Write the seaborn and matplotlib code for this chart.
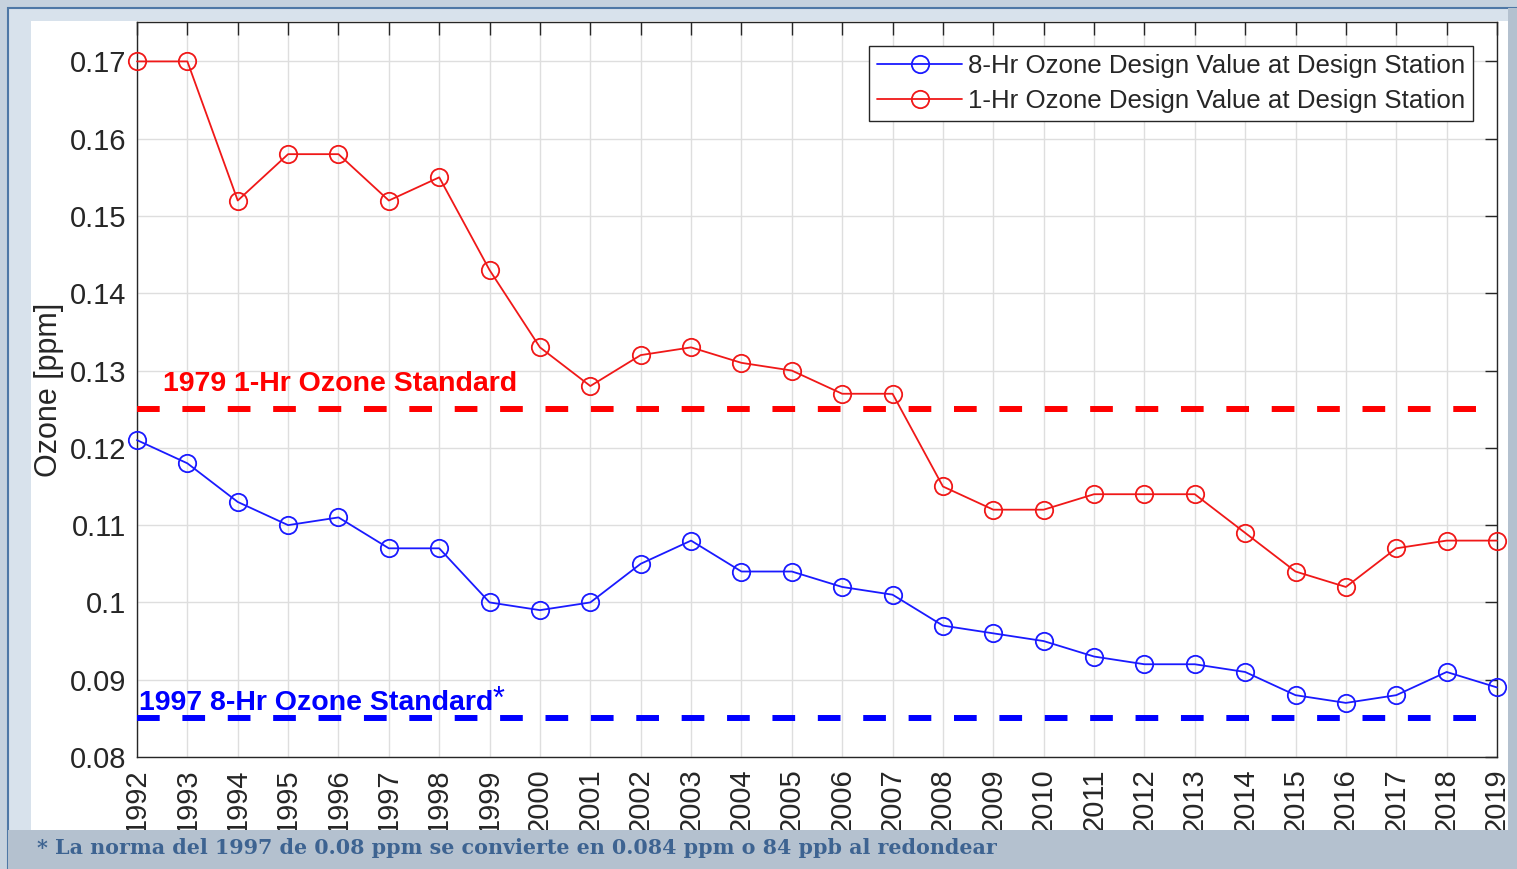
import matplotlib
matplotlib.use("Agg")
import matplotlib.pyplot as plt
from matplotlib.patches import Rectangle
import seaborn as sns
import pandas as pd

years = list(range(1992, 2020))
ozone_8hr = [0.121, 0.118, 0.113, 0.110, 0.111, 0.107, 0.107, 0.100, 0.099, 0.100,
             0.105, 0.108, 0.104, 0.104, 0.102, 0.101, 0.097, 0.096, 0.095, 0.093,
             0.092, 0.092, 0.091, 0.088, 0.087, 0.088, 0.091, 0.089]
ozone_1hr = [0.170, 0.170, 0.152, 0.158, 0.158, 0.152, 0.155, 0.143, 0.133, 0.128,
             0.132, 0.133, 0.131, 0.130, 0.127, 0.127, 0.115, 0.112, 0.112, 0.114,
             0.114, 0.114, 0.109, 0.104, 0.102, 0.107, 0.108, 0.108]
label_8hr = "8-Hr Ozone Design Value at Design Station"
label_1hr = "1-Hr Ozone Design Value at Design Station"
std_1hr = 0.125
std_8hr = 0.085
std_1hr_label = "1979 1-Hr Ozone Standard"
std_8hr_label = "1997 8-Hr Ozone Standard"
yticks = [0.08, 0.09, 0.10, 0.11, 0.12, 0.13, 0.14, 0.15, 0.16, 0.17]
ytick_labels = ["0.08", "0.09", "0.1", "0.11", "0.12", "0.13", "0.14", "0.15", "0.16", "0.17"]
footnote = "* La norma del 1997 de 0.08 ppm se convierte en 0.084 ppm o 84 ppb al redondear"

sns.set_style("white")
plt.rcParams['font.family'] = ['Liberation Sans', 'DejaVu Sans']

W, H = 1517, 869
fig = plt.figure(figsize=(W / 100, H / 100), dpi=100, facecolor="#c6d2de")

# background panels
fig.patches.append(Rectangle((8 / W, 0), 1 - 8 / W, 1 - 8 / H, transform=fig.transFigure,
                             facecolor="#d8e2ec", edgecolor="#4f78a6", lw=1.5, zorder=-3))
fig.patches.append(Rectangle((1508 / W, 0), 1 - 1508 / W, 1 - 8 / H, transform=fig.transFigure,
                             facecolor="#b4c1cf", edgecolor="none", zorder=-2))
fig.patches.append(Rectangle((31 / W, 1 - 830 / H), (1508 - 31) / W, (830 - 21) / H,
                             transform=fig.transFigure, facecolor="white", edgecolor="none", zorder=-1))
# bottom strip drawn over the axes (clips the year labels like the original)
fig.patches.append(Rectangle((8 / W, 0), 1 - 8 / W, 1 - 830 / H, transform=fig.transFigure,
                             facecolor="#b4c1cf", edgecolor="none", zorder=5))

ax = fig.add_axes([137 / W, 1 - 757 / H, (1497 - 137) / W, (757 - 22) / H])
ax.set_facecolor("none")

df8 = pd.DataFrame({"year": years, "ozone": ozone_8hr})
df1 = pd.DataFrame({"year": years, "ozone": ozone_1hr})

blue = "#1a1aff"
red = "#f01818"
sns.lineplot(data=df8, x="year", y="ozone", ax=ax, color=blue, lw=1.3, marker="o",
             markersize=12.5, mfc="none", mec=blue, mew=1.3, label=label_8hr, clip_on=False, zorder=5)
sns.lineplot(data=df1, x="year", y="ozone", ax=ax, color=red, lw=1.3, marker="o",
             markersize=12.5, mfc="none", mec=red, mew=1.3, label=label_1hr, clip_on=False, zorder=5)

ax.axhline(std_1hr, color="#ff0000", lw=4.3, dashes=(3.8, 3.8), zorder=3)
ax.axhline(std_8hr, color="#0000ff", lw=4.3, dashes=(3.8, 3.8), zorder=3)

ax.text(1992.52, 0.1283, std_1hr_label, color="#ff0000", fontsize=20.5, fontweight="bold",
        va="center", ha="left")
t8 = ax.text(1992.03, 0.0870, std_8hr_label, color="#0000ff", fontsize=20.5, fontweight="bold",
             va="center", ha="left")
ax.annotate("*", xy=(1.0, 1.2), xycoords=t8, color="#0000ff", fontsize=22,
            va="top", ha="left")

ax.set_xlim(1992, 2019)
ax.set_ylim(0.08, 0.1751)
ax.set_xticks(years)
ax.set_xticklabels([str(y) for y in years], rotation=90)
ax.set_yticks(yticks)
ax.set_yticklabels(ytick_labels)
ax.tick_params(axis="both", direction="in", length=9, width=1, colors="#262626",
               labelsize=21, top=True, right=True, labelcolor="#262626", pad=8)
ax.grid(True, color="#dedede", lw=1)
for s in ax.spines.values():
    s.set_color("#262626")
    s.set_linewidth(1)
    s.set_visible(True)
ax.set_xlabel("")
ax.set_ylabel("Ozone [ppm]", fontsize=22, color="#262626", labelpad=4)

leg = ax.legend(loc="upper right", bbox_to_anchor=(0.982, 0.967), borderaxespad=0,
                fontsize=18.6, frameon=True, fancybox=False, edgecolor="#262626",
                framealpha=1, handlelength=3.3, borderpad=0.3, labelspacing=0.42,
                handletextpad=0.2)
leg.get_frame().set_linewidth(1)

fig.text(37 / W, 1 - 848 / H, footnote, fontsize=14.9, fontweight="bold", family="DejaVu Serif",
         color="#3d6391", va="center", ha="left", zorder=6)

fig.savefig("out.png", dpi=100, facecolor=fig.get_facecolor())
